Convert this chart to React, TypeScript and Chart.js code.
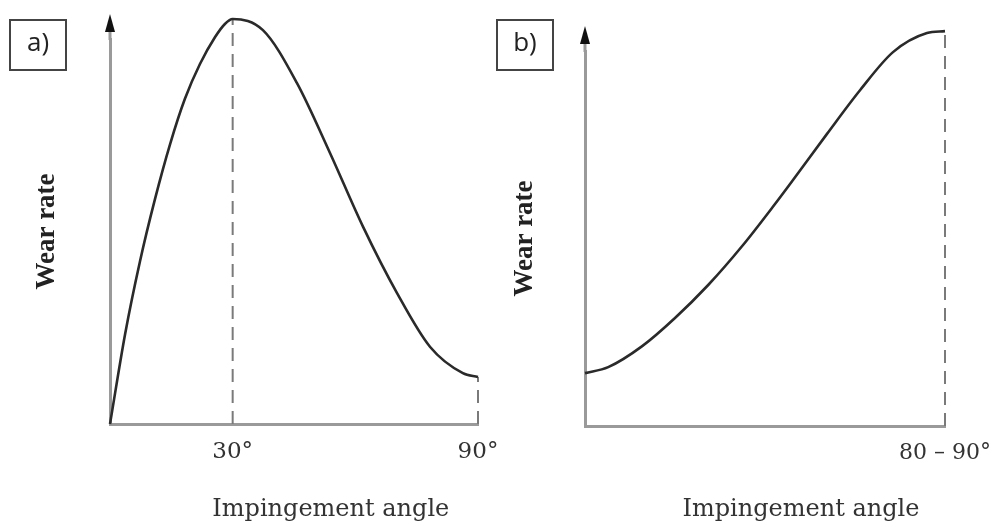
import React, { useEffect, useRef } from "react";
import { Chart, registerables } from "chart.js";

Chart.register(...registerables);

// ---- data ----
const anglesA = [0, 3.7, 7.3, 11, 14.7, 18.3, 22, 25.7, 28.1, 30, 37.4, 45.7, 53.8, 61.9, 70.2, 78.3, 86.3, 90];
const wearA = [0, 23.4, 42.1, 58.4, 72.7, 84.4, 93.5, 100.5, 103.9, 105.2, 102.3, 88.6, 70.4, 51.2, 34.0, 20.0, 13.2, 12.2];
const anglesB = [0, 5.8, 14.3, 22.5, 30.8, 39.3, 47.5, 52, 60.5, 68.8, 77, 85.5, 90];
const wearB = [14.1, 15.7, 21.3, 28.8, 37.6, 48.0, 59.2, 65.6, 77.9, 89.6, 99.7, 104.8, 105.3];
const tickValuesA = [30, 90];
const tickLabelsA = ["30°", "90°"];
const tickValuesB = [90];
const tickLabelsB = ["80 – 90°"];
const guideAnglesA = [30, 90];
const guideAnglesB = [90];
const panelLabels = ["a)", "b)"];
const xTitle = "Impingement angle";
const yTitle = "Wear rate";

const AXIS = "#9a9a9a";
const CURVE = "#2a2a2a";
const GUIDE = "#7a7a7a";
const TEXT = "#333333";

type PanelCfg = {
  angles: number[];
  wear: number[];
  tickValues: number[];
  tickLabels: string[];
  guides: number[];
  label: string;
  padding: { left: number; top: number; right: number; bottom: number };
  yTitlePad: { top: number; bottom: number };
  tickFont: number;
  tickLineHeight: number;
  boxLeftOffset: number;
};

function decorPlugin(label: string, boxLeftOffset: number) {
  return {
    id: "decor",
    afterDraw(chart: any) {
      const { ctx, chartArea } = chart;
      const x = chartArea.left;
      const top = chartArea.top;
      ctx.save();
      // arrow shaft
      ctx.strokeStyle = AXIS;
      ctx.lineWidth = 3;
      ctx.beginPath();
      ctx.moveTo(x, top + 1);
      ctx.lineTo(x, top - 12);
      ctx.stroke();
      // arrow head
      ctx.fillStyle = "#111";
      ctx.beginPath();
      ctx.moveTo(x, top - 25);
      ctx.lineTo(x - 5, top - 7);
      ctx.lineTo(x + 5, top - 7);
      ctx.closePath();
      ctx.fill();
      // x-axis title (set right of centre, as in the original figure)
      ctx.fillStyle = TEXT;
      ctx.font = "24px 'DejaVu Serif'";
      ctx.textAlign = "center";
      ctx.textBaseline = "middle";
      ctx.fillText(xTitle, chartArea.left + 0.6 * (chartArea.right - chartArea.left), chart.height - 17);
      // panel label box
      const bx = x + boxLeftOffset;
      const by = 20;
      const bw = 56;
      const bh = 50;
      ctx.strokeStyle = "#444";
      ctx.lineWidth = 2;
      ctx.strokeRect(bx, by, bw, bh);
      ctx.fillStyle = "#222";
      ctx.font = "26px 'Open Sans'";
      ctx.fillText(label, bx + bw / 2, by + bh / 2 - 1);
      ctx.restore();
    },
  };
}

function makeChart(canvas: HTMLCanvasElement, cfg: PanelCfg) {
  const curve = cfg.angles.map((a, i) => ({ x: a, y: cfg.wear[i] }));
  const guideSets = cfg.guides.map((g) => {
    const idx = cfg.angles.indexOf(g);
    return {
      data: [
        { x: g, y: 0 },
        { x: g, y: cfg.wear[idx] },
      ],
      borderColor: GUIDE,
      borderWidth: 2,
      borderDash: [13, 8],
      pointRadius: 0,
      fill: false,
      clip: false as any,
    };
  });
  return new Chart(canvas, {
    type: "line",
    data: {
      datasets: [
        {
          data: curve,
          borderColor: CURVE,
          borderWidth: 2.6,
          pointRadius: 0,
          fill: false,
          cubicInterpolationMode: "monotone",
          clip: false as any,
        },
        ...guideSets,
      ] as any,
    },
    options: {
      animation: false,
      responsive: false,
      events: [],
      layout: { padding: cfg.padding },
      plugins: { legend: { display: false }, tooltip: { enabled: false } },
      scales: {
        x: {
          type: "linear",
          min: 0,
          max: 90,
          grid: { display: false, drawTicks: false },
          border: { display: true, color: AXIS, width: 3 },
          afterBuildTicks: (scale: any) => {
            scale.ticks = cfg.tickValues.map((v) => ({ value: v }));
          },
          ticks: {
            autoSkip: false,
            maxRotation: 0,
            padding: 3,
            color: TEXT,
            font: { family: "'DejaVu Serif'", size: cfg.tickFont, lineHeight: cfg.tickLineHeight },
            callback: (value: any) => {
              const i = cfg.tickValues.indexOf(Number(value));
              return i >= 0 ? cfg.tickLabels[i] : "";
            },
          },
          title: { display: false },
        },
        y: {
          type: "linear",
          min: 0,
          max: 100,
          grid: { display: false, drawTicks: false },
          border: { display: true, color: AXIS, width: 3 },
          ticks: { display: false },
          title: {
            display: true,
            text: yTitle,
            color: "#222",
            font: { family: "'Liberation Serif'", size: 27, weight: "bold" },
            padding: cfg.yTitlePad,
          },
        },
      },
    },
    plugins: [decorPlugin(cfg.label, cfg.boxLeftOffset)],
  });
}

export default function App() {
  const refA = useRef<HTMLCanvasElement>(null);
  const refB = useRef<HTMLCanvasElement>(null);

  useEffect(() => {
    const a = makeChart(refA.current!, {
      angles: anglesA,
      wear: wearA,
      tickValues: tickValuesA,
      tickLabels: tickLabelsA,
      guides: guideAnglesA,
      label: panelLabels[0],
      padding: { left: 0, top: 39, right: 517, bottom: 47 },
      yTitlePad: { top: 31.3, bottom: 46.3 },
      tickFont: 23,
      tickLineHeight: 50 / 23,
      boxLeftOffset: -100,
    });
    const b = makeChart(refB.current!, {
      angles: anglesB,
      wear: wearB,
      tickValues: tickValuesB,
      tickLabels: tickLabelsB,
      guides: guideAnglesB,
      label: panelLabels[1],
      padding: { left: 477, top: 51, right: 50, bottom: 47 },
      yTitlePad: { top: 31.8, bottom: 43.8 },
      tickFont: 22,
      tickLineHeight: 48 / 22,
      boxLeftOffset: -88,
    });
    return () => {
      a.destroy();
      b.destroy();
    };
  }, []);

  const canvasStyle: React.CSSProperties = {
    position: "absolute",
    left: 0,
    top: 0,
    width: 995,
    height: 527,
  };

  return (
    <div style={{ position: "absolute", left: 0, top: 0, width: 995, height: 527, background: "#fff", overflow: "hidden" }}>
      <canvas ref={refA} width={995} height={527} style={canvasStyle} />
      <canvas ref={refB} width={995} height={527} style={canvasStyle} />
    </div>
  );
}
